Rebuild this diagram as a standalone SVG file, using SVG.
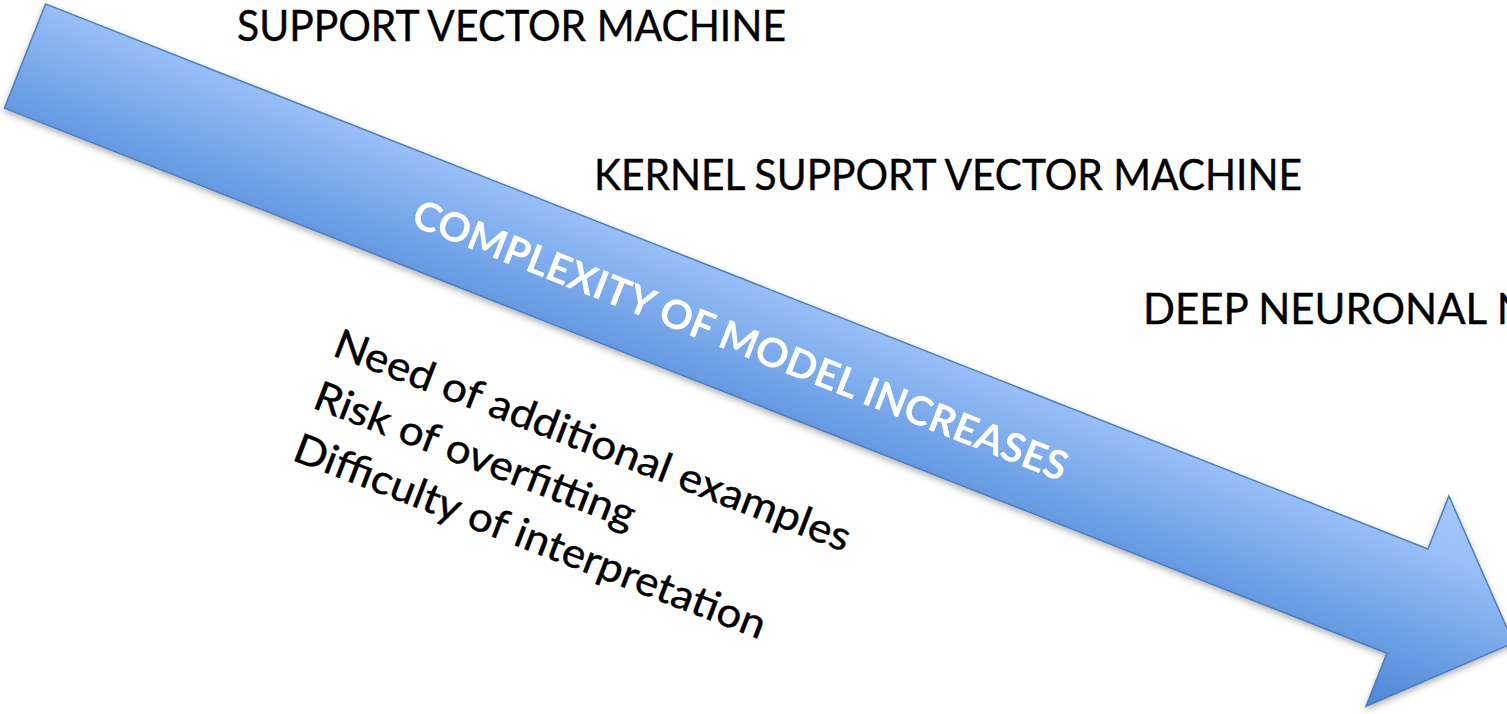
<svg xmlns="http://www.w3.org/2000/svg" width="1507" height="714" viewBox="0 0 1507 714">
  <style>
    .label { font-family: Lato, "Open Sans", "Liberation Sans", sans-serif; font-size: 42px; fill: #000000; stroke: #000000; stroke-width: 0.4px; }
    .note { font-family: Lato, "Open Sans", "Liberation Sans", sans-serif; font-size: 41px; fill: #000000; stroke: #000000; stroke-width: 0.4px; }
    .band { font-family: Lato, "Open Sans", "Liberation Sans", sans-serif; font-size: 40px; font-weight: bold; fill: #ffffff; }
  </style>
  <defs>
    <linearGradient id="arrowFill" x1="0" y1="0" x2="0" y2="1">
      <stop offset="0" stop-color="#A6C9FC"/>
      <stop offset="0.25" stop-color="#98BFF8"/>
      <stop offset="0.75" stop-color="#6499E1"/>
      <stop offset="1" stop-color="#4E86D4"/>
    </linearGradient>
    <filter id="softShadow" filterUnits="userSpaceOnUse" x="-50" y="-50" width="1700" height="850">
      <feDropShadow dx="0" dy="3" stdDeviation="3" flood-color="#000000" flood-opacity="0.3"/>
    </filter>
  </defs>
  <rect width="1507" height="714" fill="#ffffff"/>

  <!-- big block arrow with its caption -->
  <g id="trend-arrow" filter="url(#softShadow)">
    <g transform="translate(25,56) rotate(21.52)">
      <polygon points="0,-56 1486,-56 1486,-113 1600,0 1486,113 1486,56 0,56"
               fill="url(#arrowFill)" stroke="#4A7EBB" stroke-width="1.5" stroke-linejoin="miter"/>
      <text class="band" x="420" y="16" textLength="700" lengthAdjust="spacingAndGlyphs">COMPLEXITY OF MODEL INCREASES</text>
    </g>
  </g>

  <!-- models, ordered by complexity -->
  <g id="svm">
    <text class="label" x="237" y="41" textLength="549" lengthAdjust="spacingAndGlyphs">SUPPORT VECTOR MACHINE</text>
  </g>
  <g id="kernel-svm">
    <text class="label" x="594" y="190" textLength="708" lengthAdjust="spacingAndGlyphs">KERNEL SUPPORT VECTOR MACHINE</text>
  </g>
  <g id="deep-nn">
    <text class="label" x="1143" y="324">DEEP NEURONAL NETWORK</text>
  </g>

  <!-- consequences, tilted along the arrow -->
  <g id="consequences" transform="translate(331,355) rotate(21)">
    <text class="note" x="0" y="0" textLength="550" lengthAdjust="spacingAndGlyphs">Need of additional examples</text>
    <text class="note" x="0" y="56" textLength="341" lengthAdjust="spacingAndGlyphs">Risk of overfitting</text>
    <text class="note" x="0" y="112" textLength="502" lengthAdjust="spacingAndGlyphs">Difficulty of interpretation</text>
  </g>
</svg>
